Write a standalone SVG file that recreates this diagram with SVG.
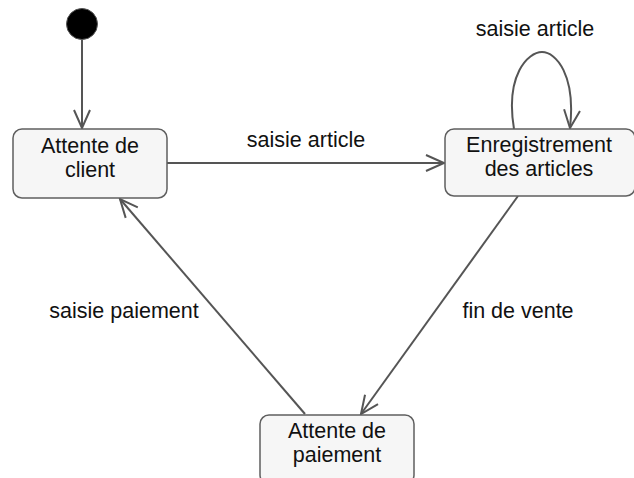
<svg xmlns="http://www.w3.org/2000/svg" width="634" height="478" viewBox="0 0 634 478">
<defs>
<style>
.st{fill:#f6f6f6;stroke:#5f5f5f;stroke-width:1.5}
.t{font-family:"Liberation Sans",Arial,sans-serif;font-size:21.5px;fill:#111;text-anchor:middle}
.c{fill:none;stroke:#555;stroke-width:2}
</style>
<marker id="a" markerWidth="24" markerHeight="24" refX="20" refY="10" orient="auto" markerUnits="userSpaceOnUse" viewBox="0 0 24 20">
<path d="M2,2 L20,10 L2,18" fill="none" stroke="#555" stroke-width="2"/>
</marker>
</defs>
<rect width="634" height="478" fill="#fff"/>
<g id="connectors">
<line class="c" x1="82" y1="40" x2="82" y2="128" marker-end="url(#a)"/>
<line class="c" x1="167" y1="163" x2="444" y2="163" marker-end="url(#a)"/>
<path class="c" d="M514,129 C505,75 528,52 542,52 C556,52 576,75 570,128" marker-end="url(#a)"/>
<line class="c" x1="518" y1="196" x2="361" y2="414" marker-end="url(#a)"/>
<line class="c" x1="305" y1="414" x2="120" y2="199" marker-end="url(#a)"/>
<text class="t" x="306" y="147">saisie article</text>
<text class="t" x="535" y="36">saisie article</text>
<text class="t" x="518" y="318">fin de vente</text>
<text class="t" x="124" y="318">saisie paiement</text>
</g>
<g id="initial">
<circle cx="82" cy="24" r="15.5" fill="#000" stroke="#555" stroke-width="1"/>
</g>
<g id="attente-client">
<rect class="st" x="13" y="129" width="154" height="69" rx="9"/>
<text class="t" x="90" y="153">Attente de</text>
<text class="t" x="90" y="177">client</text>
</g>
<g id="enregistrement">
<rect class="st" x="445" y="129" width="190" height="67" rx="9"/>
<text class="t" x="539" y="152">Enregistrement</text>
<text class="t" x="539" y="176">des articles</text>
</g>
<g id="attente-paiement">
<rect class="st" x="260" y="415" width="154" height="69" rx="9"/>
<text class="t" x="337" y="438">Attente de</text>
<text class="t" x="337" y="462">paiement</text>
</g>
</svg>
